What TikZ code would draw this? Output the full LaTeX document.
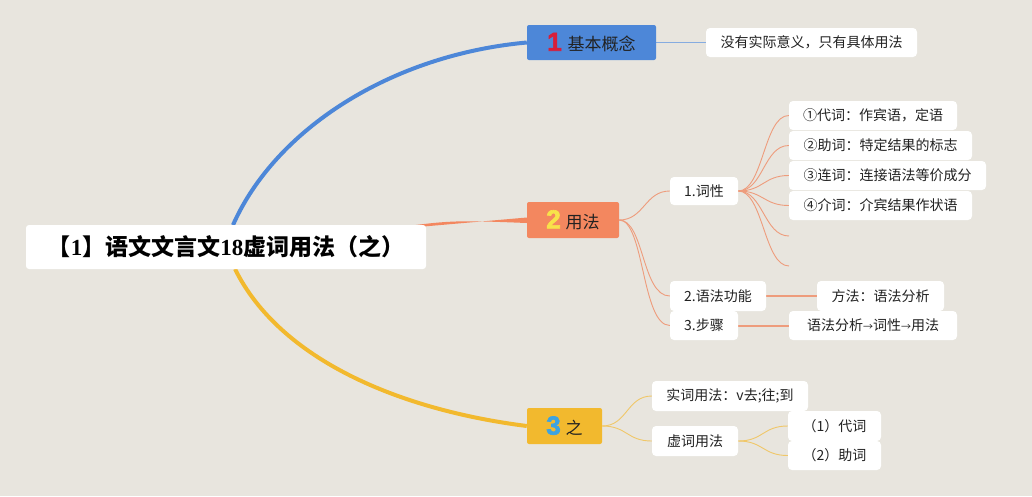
\documentclass[tikz,border=0pt]{standalone}
\usepackage{fontspec}
\setmainfont{Noto Sans CJK SC}
\newfontfamily\digitfont[BoldFeatures={FakeBold=2.5}]{Liberation Sans}
\newfontfamily\serifdigit{Liberation Serif}
\usetikzlibrary{backgrounds}
\definecolor{bgc}{HTML}{E8E5DE}
\definecolor{bluec}{HTML}{4D87D8}
\definecolor{bluel}{HTML}{86ACE0}
\definecolor{orangec}{HTML}{F3875F}
\definecolor{orangel}{HTML}{EE9C7C}
\definecolor{yellowc}{HTML}{F2B92E}
\definecolor{yellowl}{HTML}{F0C768}
\definecolor{reddig}{HTML}{D81E3A}
\definecolor{yeldig}{HTML}{F8E14A}
\definecolor{bluedig}{HTML}{3DA3E0}
\definecolor{txt}{HTML}{222222}
\begin{document}
\begin{tikzpicture}[x=1pt,y=-1pt,
  leaf/.style={fill=white, rounded corners=4pt, inner sep=0pt, minimum height=29pt, text=txt, font=\fontsize{14}{16}\selectfont},
  mainbox/.style={rounded corners=2pt, inner sep=0pt, minimum height=36pt, text=txt, font=\fontsize{17}{19}\selectfont},
  rootbox/.style={fill=white, rounded corners=3pt, inner sep=0pt, minimum width=400pt, minimum height=44pt, text=black, font=\fontsize{23}{25}\selectfont\bfseries},
  obranch/.style={draw=orangel, line width=0.9pt},
  ybranch/.style={draw=yellowl, line width=0.9pt}]
\newcommand{\dig}[2]{{\digitfont\bfseries\fontsize{26}{26}\selectfont\textcolor{#1}{#2}}}
\useasboundingbox (0,0) rectangle (1032,496);

% nodes
\node[rootbox] (root) at (226,247) {【{\serifdigit 1}】语文文言文{\serifdigit 18}虚词用法（之）};
\node[mainbox, fill=bluec, minimum width=129pt, minimum height=35pt] (n1) at (591.5,42.5) {\dig{reddig}{1}\hspace{6pt}基本概念};
\node[mainbox, fill=orangec, minimum width=92pt] (n2) at (573,220) {\dig{yeldig}{2}\hspace{5pt}用法};
\node[mainbox, fill=yellowc, minimum width=75pt] (n3) at (564.5,426) {\dig{bluedig}{3}\hspace{5pt}之};

\node[leaf, minimum width=211pt] (l1) at (811.5,42.5) {没有实际意义，只有具体用法};

\node[leaf, minimum width=68pt, minimum height=28pt] (p1) at (704,191) {1.词性};
\node[leaf, minimum width=168pt] (c1) at (873,115.5) {①代词：作宾语，定语};
\node[leaf, minimum width=183pt] (c2) at (880.5,145.5) {②助词：特定结果的标志};
\node[leaf, minimum width=197pt] (c3) at (887.5,175.5) {③连词：连接语法等价成分};
\node[leaf, minimum width=183pt] (c4) at (880.5,205.5) {④介词：介宾结果作状语};
\coordinate (e1) at (789,236);
\coordinate (e2) at (789,266);

\node[leaf, minimum width=96pt, minimum height=30pt] (p2) at (718,296) {2.语法功能};
\node[leaf, minimum width=127pt, minimum height=30pt] (m2) at (880.5,296) {方法：语法分析};
\node[leaf, minimum width=68pt] (p3) at (704,325.5) {3.步骤};
\node[leaf, minimum width=168pt] (m3) at (873,325.5) {语法分析{\fontsize{10}{10}\selectfont →}词性{\fontsize{10}{10}\selectfont →}用法};

\node[leaf, minimum width=156pt, minimum height=30pt] (s1) at (730,396) {实词用法：v去;往;到};
\node[leaf, minimum width=86pt, minimum height=30pt] (s2) at (695,441) {虚词用法};
\node[leaf, minimum width=93pt, minimum height=30pt] (d1) at (834.5,426) {（1）代词};
\node[leaf, minimum width=93pt] (d2) at (834.5,455.5) {（2）助词};

\coordinate (rootT) at (233,225);
\coordinate (rootB) at (235,269);
\coordinate (rootR) at (372,231);

\begin{scope}[on background layer]
\fill[bgc] (0,0) rectangle (1032,496);
% main branches
\draw[bluec, line width=4pt] (rootT) .. controls (275,130) and (390,55) .. (n1.west);
\draw[yellowc, line width=4pt] (rootB) .. controls (280,360) and (400,410) .. (n3.west);
\fill[orangec] (rootR) .. controls (450,224) .. ([yshift=2.5pt]n2.west) -- ([yshift=-3pt]n2.west) .. controls (450,220) .. (rootR) -- cycle;
% blue
\draw[bluel, line width=1.2pt] (n1.east) -- (l1.west);
% orange
\draw[obranch] (n2.east) .. controls +(25,0) and +(-25,0) .. (p1.west);
\draw[obranch] (n2.east) .. controls +(25,0) and +(-28,0) .. (p2.west);
\draw[obranch] (n2.east) .. controls +(25,0) and +(-28,0) .. (p3.west);
\foreach \t in {c1,c2,c3,c4,e1,e2}
  \draw[obranch] (p1.east) .. controls +(25,0) and +(-25,0) .. (\t.west);
\draw[draw=orangel, line width=2pt] (p2.east) -- (m2.west);
\draw[draw=orangel, line width=2pt] (p3.east) -- (m3.west);
% yellow
\draw[ybranch] (n3.east) .. controls +(25,0) and +(-25,0) .. (s1.west);
\draw[ybranch] (n3.east) .. controls +(25,0) and +(-25,0) .. (s2.west);
\draw[ybranch] (s2.east) .. controls +(25,0) and +(-25,0) .. (d1.west);
\draw[ybranch] (s2.east) .. controls +(25,0) and +(-25,0) .. (d2.west);
\end{scope}
\end{tikzpicture}
\end{document}
